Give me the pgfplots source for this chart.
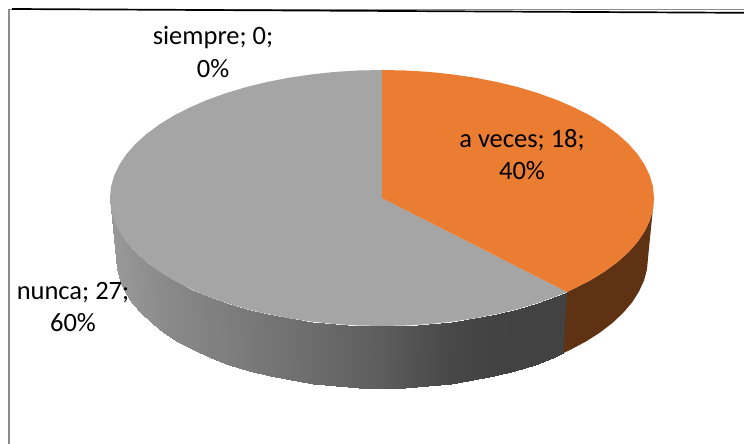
\documentclass[border=0pt]{standalone}
\usepackage{pgfplots}
\pgfplotsset{compat=1.18}
\usepackage{fontspec}
\setmainfont{Carlito}
\definecolor{cOrange}{HTML}{EB7D32}
\definecolor{cGray}{HTML}{A5A5A5}
\definecolor{cBrown}{HTML}{5F3214}
\tikzset{lab/.style={font=\fontsize{26.5}{31}\selectfont,text=black,anchor=base,inner sep=0pt}}
\begin{document}
\begin{tikzpicture}[x=1pt,y=1pt]
\useasboundingbox (0,0) rectangle (744pt,444pt);
\begin{axis}[
  at={(0,0)},anchor=south west,
  width=744pt,height=444pt,scale only axis,
  xmin=0,xmax=744,ymin=0,ymax=444,y dir=reverse,
  axis lines=none,clip=true,
  colormap/blackwhite,point meta min=0,point meta max=255,
]
% frame of the chart area
\addplot[draw=black!45,line width=1.3pt,forget plot] coordinates {(9,444) (9,9.8) (744,9.8)};
\addplot[draw=black,line width=1.7pt,forget plot] coordinates {(12,9) (744,12.8)};
% side of the grey slice
\addplot[surf,shader=interp,mesh/rows=2,point meta=explicit,forget plot] table[meta=c] {
x y c
567.0 292.0 66
556.8 296.1 66
538.0 302.9 66
518.0 308.9 66
497.0 314.0 67
475.0 318.3 68
452.4 321.6 72
429.2 324.1 78
405.7 325.5 85
382.0 326.0 93
358.3 325.5 98
334.8 324.1 103
311.6 321.6 108
289.0 318.3 113
267.0 314.0 117
246.0 308.9 122
226.0 302.9 126
207.2 296.1 129
189.7 288.5 133
173.6 280.3 136
159.2 271.4 139
146.4 262.0 143
135.5 252.1 146
126.4 241.8 149
119.3 231.1 151
114.1 220.2 152
111.0 209.2 153
110.0 198.0 153
563.4 353.1 66
553.0 357.6 66
534.6 364.5 66
515.0 370.6 66
494.4 375.8 67
473.0 380.2 68
450.8 383.6 72
428.2 386.0 78
405.2 387.5 85
382.0 388.0 93
358.8 387.5 98
335.8 386.0 103
313.2 383.6 108
291.0 380.2 113
269.6 375.8 117
249.0 370.6 122
229.4 364.5 126
211.0 357.6 129
193.9 349.9 133
178.2 341.6 136
164.1 332.6 139
151.6 323.0 143
140.9 312.9 146
132.0 302.5 149
125.1 291.6 151
120.0 280.6 152
117.0 269.3 153
116.0 258.0 153
};
% side of the orange slice
\addplot[fill=cBrown,draw=none,forget plot] coordinates {
(654,198) (653,209.2) (649.9,220.2) (644.7,231.1) (637.6,241.8) (628.5,252.1)
(617.6,262) (604.8,271.4) (590.4,280.3) (574.3,288.5) (567,292)
(563.4,353.1) (570.1,349.9) (585.8,341.6) (599.9,332.6) (612.4,323) (623.1,312.9)
(632,302.5) (638.9,291.6) (644,280.6) (647,269.3) (648,258)} -- cycle;
% top of the grey slice (nunca; 27)
\addplot[fill=cGray,draw=none,forget plot] coordinates {
(382,198) (567,292) (556.8,296.1) (538,302.9) (518,308.9) (497,314) (475,318.3) (452.4,321.6)
(429.2,324.1) (405.7,325.5) (382,326) (358.3,325.5) (334.8,324.1) (311.6,321.6) (289,318.3)
(267,314) (246,308.9) (226,302.9) (207.2,296.1) (189.7,288.5) (173.6,280.3) (159.2,271.4)
(146.4,262) (135.5,252.1) (126.4,241.8) (119.3,231.1) (114.1,220.2) (111,209.2) (110,198)
(111,186.8) (114.1,175.8) (119.3,164.9) (126.4,154.2) (135.5,143.9) (146.4,134) (159.2,124.6)
(173.6,115.7) (189.7,107.5) (207.2,99.9) (226,93.1) (246,87.1) (267,82) (289,77.7) (311.6,74.4)
(334.8,71.9) (358.3,70.5) (382,70)} -- cycle;
% top of the orange slice (a veces; 18)
\addplot[fill=cOrange,draw=none,forget plot] coordinates {
(382,198) (382,70) (405.7,70.5) (429.2,71.9) (452.4,74.4) (475,77.7) (497,82) (518,87.1)
(538,93.1) (556.8,99.9) (574.3,107.5) (590.4,115.7) (604.8,124.6) (617.6,134) (628.5,143.9)
(637.6,154.2) (644.7,164.9) (649.9,175.8) (653,186.8) (654,198) (653,209.2) (649.9,220.2)
(644.7,231.1) (637.6,241.8) (628.5,252.1) (617.6,262) (604.8,271.4) (590.4,280.3) (574.3,288.5)
(567,292)} -- cycle;
% labels
\node[lab] at (axis cs:213,44.5) {siempre; 0;};
\node[lab] at (axis cs:213,77.5) {0\%};
\node[lab] at (axis cs:522,147) {a veces; 18;};
\node[lab] at (axis cs:522,179.5) {40\%};
\node[lab] at (axis cs:73,299) {nunca; 27;};
\node[lab] at (axis cs:73,331.5) {60\%};
\end{axis}
\end{tikzpicture}
\end{document}
